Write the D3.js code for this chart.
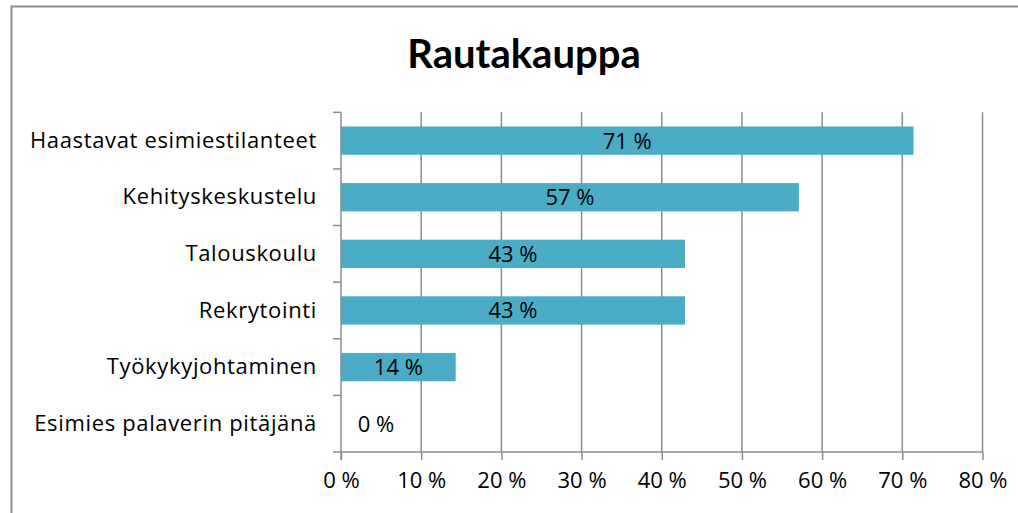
<!doctype html>
<html lang="fi">
<head>
<meta charset="UTF-8">
<title>Rautakauppa</title>
<style>
  html, body { margin: 0; padding: 0; background: #fff; }
  svg { display: block; }
  text { font-family: "Open Sans", sans-serif; fill: #000; font-variant-ligatures: none; }
</style>
</head>
<body>
<svg id="chart" width="1018" height="513"></svg>
<script src="https://cdn.jsdelivr.net/npm/d3@7"></script>
<script>
  const title = 'Rautakauppa'
  const categories = ['Haastavat esimiestilanteet', 'Kehityskeskustelu', 'Talouskoulu',
    'Rekrytointi', 'Työkykyjohtaminen', 'Esimies palaverin pitäjänä']
  const values = [0.714, 0.571, 0.429, 0.429, 0.143, 0]
  const xTicks = [0, 0.1, 0.2, 0.3, 0.4, 0.5, 0.6, 0.7, 0.8]

  const svg = d3.select('#chart')
  const plot = { left: 341, right: 982.5, top: 112.3, bottom: 452 }
  const fontSize = '22px'

  // outer frame of the chart (right/bottom run off the image)
  svg.append('path')
    .attr('d', 'M11.5,520 L11.5,6.5 L1030,6.5')
    .attr('fill', 'none')
    .attr('stroke', '#8c8c8c')
    .attr('stroke-width', 2)

  svg.append('text')
    .attr('x', 524).attr('y', 67.5)
    .attr('text-anchor', 'middle')
    .style('font-family', 'Lato, sans-serif')
    .style('font-weight', 'bold')
    .style('font-size', '40px')
    .text(title)

  const x = d3.scaleLinear().domain([0, 0.8]).range([plot.left, plot.right])
  const y = d3.scaleBand().domain(categories).range([plot.top, plot.bottom])
    .paddingInner(0.5).paddingOuter(0.25)
  const yBand = d3.scaleBand().domain(categories).range([plot.top, plot.bottom])

  // gridlines
  svg.append('g').selectAll('line').data(xTicks.slice(1)).join('line')
    .attr('x1', d => x(d)).attr('x2', d => x(d))
    .attr('y1', plot.top).attr('y2', plot.bottom)
    .attr('stroke', '#8c8c8c').attr('stroke-width', 1.5)

  // bars
  svg.append('g').selectAll('rect').data(values).join('rect')
    .attr('x', x(0))
    .attr('y', (d, i) => y(categories[i]))
    .attr('width', d => x(d) - x(0))
    .attr('height', y.bandwidth())
    .attr('fill', '#4BACC6')

  // data labels
  svg.append('g').selectAll('text').data(values).join('text')
    .attr('x', d => Math.max((x(d) + x(0)) / 2, x(0) + 35))
    .attr('y', (d, i) => y(categories[i]) + y.bandwidth() / 2)
    .attr('dy', '0.36em')
    .attr('text-anchor', 'middle')
    .style('font-size', fontSize)
    .text(d => Math.round(d * 100) + ' %')

  // x axis
  const xAxis = svg.append('g')
    .attr('transform', `translate(0,${plot.bottom})`)
    .call(d3.axisBottom(x).tickValues(xTicks).tickSize(8).tickPadding(12)
      .tickFormat(d => Math.round(d * 100) + ' %'))
  xAxis.select('.domain').remove()
  xAxis.selectAll('line').attr('stroke', '#8c8c8c').attr('stroke-width', 1.5)
  xAxis.selectAll('text').style('font-size', fontSize).style('font-family', '"Open Sans", sans-serif').attr('fill', '#000')
  svg.append('line')
    .attr('x1', plot.left - 8).attr('x2', plot.right)
    .attr('y1', plot.bottom).attr('y2', plot.bottom)
    .attr('stroke', '#8c8c8c').attr('stroke-width', 1.5)

  // y axis
  const yAxis = svg.append('g')
    .attr('transform', `translate(${plot.left},0)`)
    .call(d3.axisLeft(yBand).tickSize(0).tickPadding(24))
  yAxis.select('.domain').remove()
  yAxis.selectAll('text')
    .style('font-size', fontSize)
    .style('letter-spacing', '0.65px')
    .style('font-family', '"Open Sans", sans-serif')
    .attr('fill', '#000')
  svg.append('line')
    .attr('x1', plot.left).attr('x2', plot.left)
    .attr('y1', plot.top).attr('y2', plot.bottom + 8)
    .attr('stroke', '#8c8c8c').attr('stroke-width', 1.5)
  svg.append('g').selectAll('line').data(categories).join('line')
    .attr('x1', plot.left - 8).attr('x2', plot.left)
    .attr('y1', d => yBand(d)).attr('y2', d => yBand(d))
    .attr('stroke', '#8c8c8c').attr('stroke-width', 1.5)
</script>
</body>
</html>
